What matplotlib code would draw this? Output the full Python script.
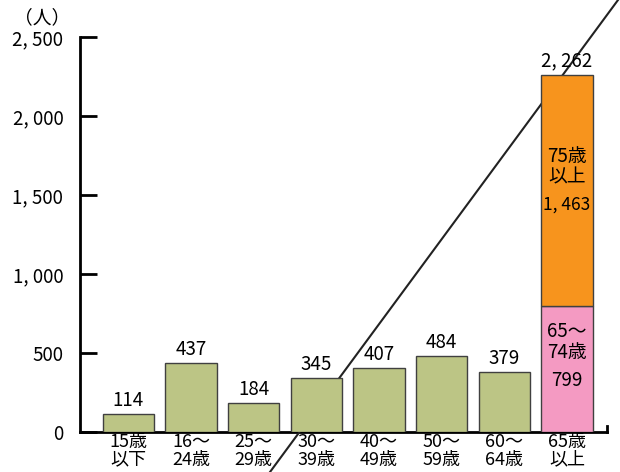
import matplotlib
matplotlib.use("Agg")
import matplotlib.pyplot as plt
from matplotlib.lines import Line2D

plt.rcParams['font.family'] = ['Noto Sans CJK JP', 'DejaVu Sans']

# data
categories = ['15歳\n以下', '16～\n24歳', '25～\n29歳', '30～\n39歳',
              '40～\n49歳', '50～\n59歳', '60～\n64歳', '65歳\n以上']
counts = [114, 437, 184, 345, 407, 484, 379]
elderly_young = 799    # 65～74歳
elderly_old = 1463     # 75歳以上
elderly_total = 2262
yticks = [0, 500, 1000, 1500, 2000, 2500]


def fmt(v):
    s = f'{v:,}'
    return s.replace(',', ', ')


fig = plt.figure(figsize=(6.2, 4.72), dpi=100)
ax = fig.add_axes([0.129, 0.0847, 0.85, 0.837])

green = '#BCC585'
orange = '#F7941D'
pink = '#F49AC2'
edge = '#404040'
fs = 13.5

x = list(range(len(categories)))
w = 0.82
ax.bar(x[:7], counts, width=w, color=green, edgecolor=edge, linewidth=1, zorder=3)
ax.bar(x[7], elderly_young, width=w, color=pink, edgecolor=edge, linewidth=1, zorder=3)
ax.bar(x[7], elderly_old, bottom=elderly_young, width=w, color=orange,
       edgecolor=edge, linewidth=1, zorder=3)

# value labels above bars
for xi, v in zip(x[:7], counts):
    ax.annotate(fmt(v), (xi, v), xytext=(0, 2), textcoords='offset points',
                ha='center', va='bottom', fontsize=fs, zorder=4)
ax.annotate(fmt(elderly_total), (x[7], elderly_total), xytext=(0, 2),
            textcoords='offset points', ha='center', va='bottom', fontsize=fs, zorder=4)

# labels inside the stacked bar
ax.text(x[7], 1680, '75歳\n以上', ha='center', va='center', fontsize=fs,
        linespacing=1.0, zorder=4)
ax.text(x[7], 1437, fmt(elderly_old), ha='center', va='center', fontsize=12.5, zorder=4)
ax.text(x[7], 570, '65～\n74歳', ha='center', va='center', fontsize=fs,
        linespacing=1.0, zorder=4)
ax.text(x[7], 329, fmt(elderly_young), ha='center', va='center', fontsize=fs, zorder=4)

ax.set_xlim(-0.771, 7.64)
ax.set_ylim(0, 2500)
ax.set_yticks(yticks)
ax.set_yticklabels([fmt(t) for t in yticks], fontsize=fs)
ax.set_xticks(x)
ax.set_xticklabels(categories, fontsize=13, linespacing=0.95)
ax.tick_params(axis='x', length=0, pad=1)
ax.tick_params(axis='y', direction='in', length=12, width=2, pad=12)

for s in ['top', 'right']:
    ax.spines[s].set_visible(False)
ax.spines['left'].set_linewidth(2)
ax.spines['bottom'].set_linewidth(2)

# small upward tick at right end of the x axis
ax.plot([7.64, 7.64], [0, 35], color='black', lw=2, clip_on=False, zorder=3)

# unit label
fig.text(0.068, 0.962, '（人）', ha='center', va='center', fontsize=fs)

# stray diagonal line across the figure
ax.add_line(Line2D([0.4355, 0.9968], [0.0, 1.0], transform=fig.transFigure,
                   color='#222222', lw=1.5, clip_on=False, zorder=2.6))

fig.savefig('out.png', dpi=100)
